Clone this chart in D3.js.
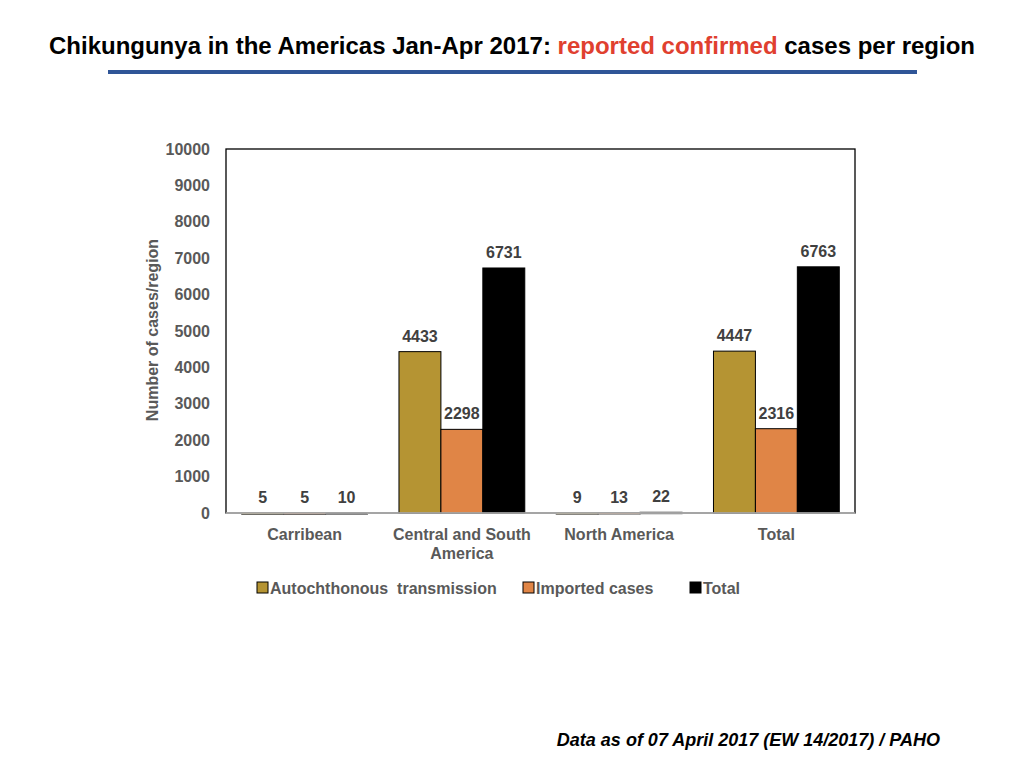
<!DOCTYPE html>
<html>
<head>
<meta charset="utf-8">
<script src="https://cdn.jsdelivr.net/npm/d3@7"></script>
<style>
  body { margin: 0; background: #fff; }
  text { font-family: "Liberation Sans", Arial, sans-serif; }
</style>
</head>
<body>
<div id="chart"></div>
<script>
// Data
const regions = ["Carribean", "Central and South America", "North America", "Total"];
const seriesNames = ["Autochthonous transmission", "Imported cases", "Total"];
const autochthonous = [5, 4433, 9, 4447];
const imported = [5, 2298, 13, 2316];
const totals = [10, 6731, 22, 6763];
const yTicks = [0, 1000, 2000, 3000, 4000, 5000, 6000, 7000, 8000, 9000, 10000];
const seriesColours = ["#B59433", "#E08546", "#000000"];

const width = 1024;
const height = 768;
const plot = {left: 226, top: 149, right: 855, bottom: 513};

const svg = d3.select('#chart')
    .append('svg')
    .attr('width', width)
    .attr('height', height);

// Title
const title = svg.append('text')
    .attr('x', 512)
    .attr('y', 54)
    .attr('text-anchor', 'middle')
    .attr('font-size', 24)
    .attr('font-weight', 'bold')
    .attr('fill', '#000');
title.append('tspan').text('Chikungunya in the Americas Jan-Apr 2017: ');
title.append('tspan').attr('fill', '#E0402F').text('reported confirmed');
title.append('tspan').text(' cases per region');

// Blue rule under the title
svg.append('rect')
    .attr('x', 108)
    .attr('y', 70)
    .attr('width', 809)
    .attr('height', 4)
    .attr('fill', '#2F5597');

// Scales
const xScale = d3.scaleBand()
    .domain(regions)
    .range([plot.left, plot.right])
    .paddingInner(0.2)
    .paddingOuter(0.1);

const xSub = d3.scaleBand()
    .domain(seriesNames)
    .range([0, xScale.bandwidth()]);

const yScale = d3.scaleLinear()
    .domain([0, 10000])
    .range([plot.bottom, plot.top]);

// Plot frame
svg.append('rect')
    .attr('x', plot.left)
    .attr('y', plot.top)
    .attr('width', plot.right - plot.left)
    .attr('height', plot.bottom - plot.top)
    .attr('fill', 'none')
    .attr('stroke', '#000')
    .attr('stroke-width', 1.3);

// Bars
const rows = regions.map((r, i) => ({
    region: r,
    values: [autochthonous[i], imported[i], totals[i]]
}));

const groups = svg.selectAll('g.group')
    .data(rows)
    .enter()
    .append('g')
    .attr('class', 'group')
    .attr('transform', (d) => `translate(${xScale(d.region)}, 0)`);

groups.selectAll('rect')
    .data((d) => d.values.map((v, j) => ({name: seriesNames[j], value: v, colour: seriesColours[j]})))
    .enter()
    .append('rect')
    .attr('x', (d) => xSub(d.name))
    .attr('y', (d) => yScale(d.value))
    .attr('width', xSub.bandwidth())
    .attr('height', (d) => Math.max(yScale(0) - yScale(d.value), 1.5))
    .attr('fill', (d) => d.colour)
    .attr('stroke', (d) => d.value < 100 ? '#555' : '#000')
    .attr('stroke-width', 1);

// Value labels
groups.selectAll('text.value')
    .data((d) => d.values.map((v, j) => ({name: seriesNames[j], value: v})))
    .enter()
    .append('text')
    .attr('class', 'value')
    .attr('x', (d) => xSub(d.name) + xSub.bandwidth() / 2)
    .attr('y', (d) => yScale(d.value) - 10)
    .attr('text-anchor', 'middle')
    .attr('font-size', 16)
    .attr('font-weight', 'bold')
    .attr('fill', '#404040')
    .text((d) => d.value);

// X axis line
svg.append('line')
    .attr('x1', plot.left)
    .attr('x2', plot.right)
    .attr('y1', plot.bottom)
    .attr('y2', plot.bottom)
    .attr('stroke', '#BFBFBF')
    .attr('stroke-width', 1.5);

// Y axis tick labels
const yAxis = svg.append('g')
    .attr('transform', `translate(${plot.left}, 0)`)
    .call(d3.axisLeft(yScale).tickValues(yTicks).tickFormat(d3.format('d')).tickSize(0).tickPadding(16));
yAxis.select('.domain').remove();
yAxis.selectAll('text')
    .attr('font-family', '"Liberation Sans", Arial, sans-serif')
    .attr('font-size', 16)
    .attr('font-weight', 'bold')
    .attr('fill', '#595959');

// X axis category labels
const xAxis = svg.append('g')
    .attr('transform', `translate(0, ${plot.bottom})`)
    .call(d3.axisBottom(xScale).tickSize(0).tickPadding(0));
xAxis.select('.domain').remove();
xAxis.selectAll('text').remove();
xAxis.selectAll('.tick').each(function(d) {
    const t = d3.select(this).append('text')
        .attr('text-anchor', 'middle')
        .attr('font-family', '"Liberation Sans", Arial, sans-serif')
        .attr('font-size', 16)
        .attr('font-weight', 'bold')
        .attr('fill', '#595959');
    const lines = d === "Central and South America" ? ["Central and South", "America"] : [d];
    lines.forEach((l, i) => {
        t.append('tspan').attr('x', 0).attr('y', 27 + i * 19).text(l);
    });
});

// Y axis title
svg.append('text')
    .attr('transform', 'translate(158, 330) rotate(-90)')
    .attr('text-anchor', 'middle')
    .attr('font-size', 16)
    .attr('font-weight', 'bold')
    .attr('fill', '#595959')
    .text('Number of cases/region');

// Legend
const legendX = [257, 523, 690];
const legend = svg.selectAll('g.legend')
    .data(seriesNames)
    .enter()
    .append('g')
    .attr('class', 'legend')
    .attr('transform', (d, i) => `translate(${legendX[i]}, 582)`);

legend.append('rect')
    .attr('width', 11)
    .attr('height', 11)
    .attr('fill', (d, i) => seriesColours[i])
    .attr('stroke', '#000')
    .attr('stroke-width', 1);

legend.append('text')
    .attr('x', 13)
    .attr('y', 12)
    .attr('font-size', 16)
    .attr('font-weight', 'bold')
    .attr('fill', '#595959')
    .attr('xml:space', 'preserve')
    .style('white-space', 'pre')
    .text((d) => d === "Autochthonous transmission" ? "Autochthonous  transmission" : d);

// Footer
svg.append('text')
    .attr('x', 940)
    .attr('y', 746)
    .attr('text-anchor', 'end')
    .attr('font-size', 18)
    .attr('font-weight', 'bold')
    .attr('font-style', 'italic')
    .attr('fill', '#000')
    .text('Data as of 07 April 2017 (EW 14/2017) / PAHO');
</script>
</body>
</html>
